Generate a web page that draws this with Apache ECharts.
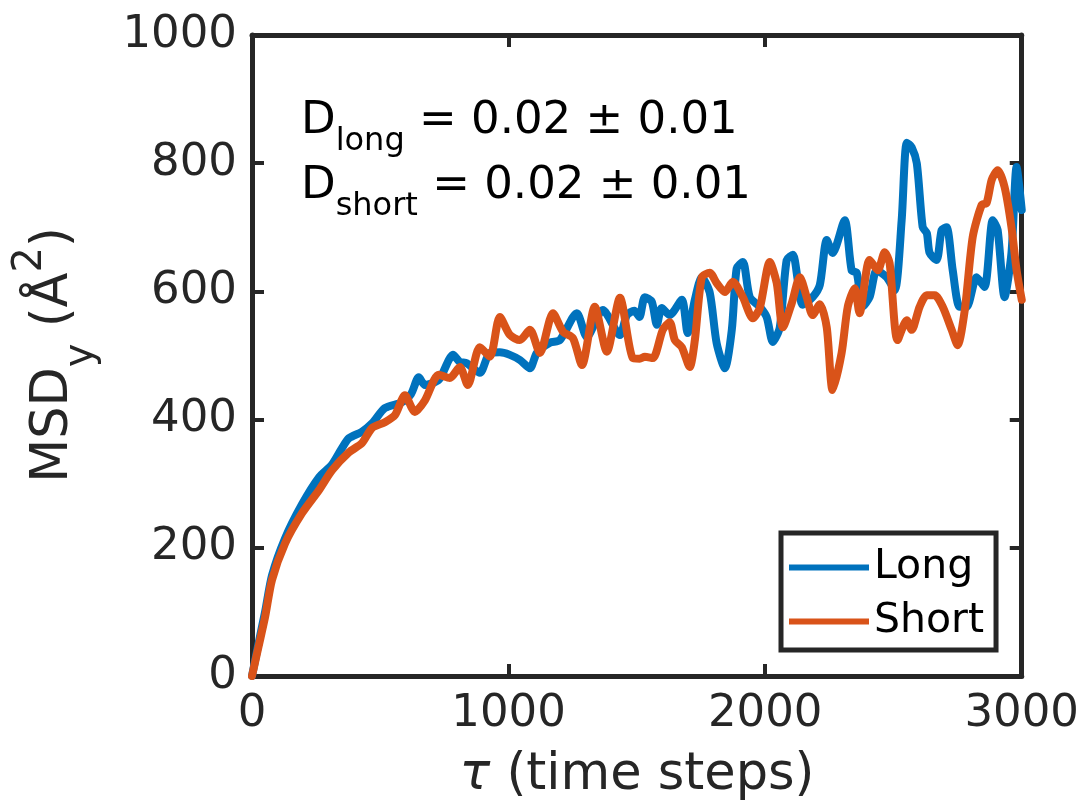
<!DOCTYPE html>
<html>
<head>
<meta charset="utf-8">
<script src="https://cdn.jsdelivr.net/npm/echarts@6/dist/echarts.min.js"></script>
<style>html,body{margin:0;padding:0;background:#fff}#c{width:1082px;height:807px}</style>
</head>
<body>
<div id="c"></div>
<script>
// ---- data ----
const xTicks = [0, 1000, 2000, 3000];
const yTicks = [0, 200, 400, 600, 800, 1000];
const seriesNames = ['Long', 'Short'];

const tauLong = [0,25,51,78,129,195,261,312,350,378,428,470,518,584,620,650,674,728,767,783,810,837,888,927,966,1005,1044,1083,1110,1161,1200,1266,1305,1367,1434,1461,1490,1510,1531,1558,1578,1597,1628,1675,1698,1726,1753,1784,1811,1843,1870,1889,1913,1940,1979,2006,2030,2057,2084,2108,2127,2146,2185,2213,2240,2263,2310,2337,2357,2380,2407,2435,2474,2505,2532,2552,2571,2591,2614,2630,2641,2668,2688,2707,2731,2758,2785,2824,2855,2887,2906,2933,2960,2980,3000];
const msdLong = [0,50,100,157,215,268,310,330,355,371,381,395,418,427,440,466,454,462,493,501,490,488,473,504,505,501,493,480,504,520,524,566,529,571,532,563,570,560,591,584,548,574,563,587,535,587,622,598,519,480,540,636,646,591,576,560,521,544,649,657,618,579,591,610,680,660,711,633,629,576,591,633,622,602,711,832,825,800,700,691,660,649,696,700,633,576,576,622,607,711,696,591,660,794,727];

const tauShort = [0,25,51,78,129,195,261,312,378,428,468,518,557,596,635,674,728,771,810,841,888,927,966,1005,1044,1083,1122,1173,1212,1251,1286,1336,1383,1434,1484,1511,1531,1562,1601,1628,1648,1675,1706,1726,1753,1784,1811,1843,1874,1913,1952,1979,2018,2045,2069,2104,2135,2162,2185,2213,2240,2263,2298,2322,2349,2368,2407,2439,2466,2485,2516,2552,2571,2602,2630,2661,2692,2727,2750,2778,2809,2844,2863,2883,2906,2933,2960,2980,3000];
const msdShort = [0,45,92,150,207,254,290,321,349,363,387,396,407,438,412,430,470,465,482,454,513,498,560,532,524,540,504,566,537,527,485,576,506,590,496,495,498,496,540,552,524,513,482,524,622,629,613,599,615,591,558,574,646,613,544,582,622,591,563,580,544,446,504,576,605,566,649,633,661,644,524,555,540,576,594,594,576,540,516,571,685,735,738,774,789,763,700,633,587];

const annotLong = 'D{sub|long} = 0.02 ± 0.01';
const annotShort = 'D{sub|short} = 0.02 ± 0.01';

// ---- chart ----
const FONT = 'DejaVu Sans';
const AX = '#262626';
const zip = (a, b) => a.map((v, i) => [v, b[i]]);
const plain = v => String(v);

const chart = echarts.init(document.getElementById('c'), null, {renderer: 'canvas'});

const axisCommon = {
  axisLine: {show: true, onZero: false, lineStyle: {color: AX, width: 5}},
  axisTick: {show: true, inside: true, length: 12, lineStyle: {color: AX, width: 4}},
  splitLine: {show: false}
};

chart.setOption({
  animation: false,
  backgroundColor: '#fff',
  grid: {left: 252, right: 60, top: 35, bottom: 131, containLabel: false},
  xAxis: [
    Object.assign({type: 'value', min: xTicks[0], max: xTicks[xTicks.length-1], interval: 1000, position: 'bottom',
      axisLabel: {color: AX, fontSize: 45, fontFamily: FONT, margin: 16, formatter: plain}}, axisCommon),
    Object.assign({type: 'value', min: xTicks[0], max: xTicks[xTicks.length-1], interval: 1000, position: 'top',
      axisLabel: {show: false}}, axisCommon)
  ],
  yAxis: [
    Object.assign({type: 'value', min: yTicks[0], max: yTicks[yTicks.length-1], interval: 200, position: 'left',
      axisLabel: {color: AX, fontSize: 45, fontFamily: FONT, margin: 15, formatter: plain}}, axisCommon),
    Object.assign({type: 'value', min: yTicks[0], max: yTicks[yTicks.length-1], interval: 200, position: 'right',
      axisLabel: {show: false}}, axisCommon)
  ],
  legend: {
    orient: 'vertical', left: 781, top: 533,
    data: seriesNames,
    icon: 'rect', itemWidth: 80, itemHeight: 6, itemGap: 13,
    padding: [14, 12, 8, 8],
    borderColor: AX, borderWidth: 5, backgroundColor: '#fff',
    textStyle: {color: '#000', fontSize: 41, fontFamily: FONT, padding: [0, 0, 0, 0]}
  },
  series: [
    {name: seriesNames[0], type: 'line', data: zip(tauLong, msdLong), showSymbol: false, symbol: 'none', smooth: 0.25,
      color: '#0072BD', lineStyle: {width: 8, color: '#0072BD', join: 'round', cap: 'round'}, z: 2},
    {name: seriesNames[1], type: 'line', data: zip(tauShort, msdShort), showSymbol: false, symbol: 'none', smooth: 0.25,
      color: '#D95319', lineStyle: {width: 8, color: '#D95319', join: 'round', cap: 'round'}, z: 3}
  ],
  graphic: [
    {type: 'text', x: 54, y: 355, rotation: Math.PI / 2, silent: true,
      style: {text: 'MSD{sub|y} (Å{sup|2})', fontSize: 51, fontFamily: FONT, fill: AX, align: 'center', verticalAlign: 'middle',
        rich: {sub: {fontSize: 40, fontFamily: FONT, fill: AX, padding: [56, 0, 0, 0]},
               sup: {fontSize: 40, fontFamily: FONT, fill: AX, padding: [0, 0, 46, 0]}}}},
    {type: 'text', x: 637, y: 776, silent: true,
      style: {text: '{it|τ} (time steps)', fontSize: 51, fontFamily: FONT, fill: AX, align: 'center', verticalAlign: 'middle',
        rich: {it: {fontSize: 51, fontFamily: FONT, fontStyle: 'italic', fill: AX}}}},
    {type: 'text', x: 301, y: 121, silent: true, z: 10,
      style: {text: annotLong, fontSize: 45, fontFamily: FONT, fill: '#000', align: 'left', verticalAlign: 'middle',
        rich: {sub: {fontSize: 32, fontFamily: FONT, fill: '#000', padding: [42, 0, 0, 0]}}}},
    {type: 'text', x: 301, y: 186, silent: true, z: 10,
      style: {text: annotShort, fontSize: 45, fontFamily: FONT, fill: '#000', align: 'left', verticalAlign: 'middle',
        rich: {sub: {fontSize: 32, fontFamily: FONT, fill: '#000', padding: [42, 0, 0, 0]}}}}
  ]
});
</script>
</body>
</html>
